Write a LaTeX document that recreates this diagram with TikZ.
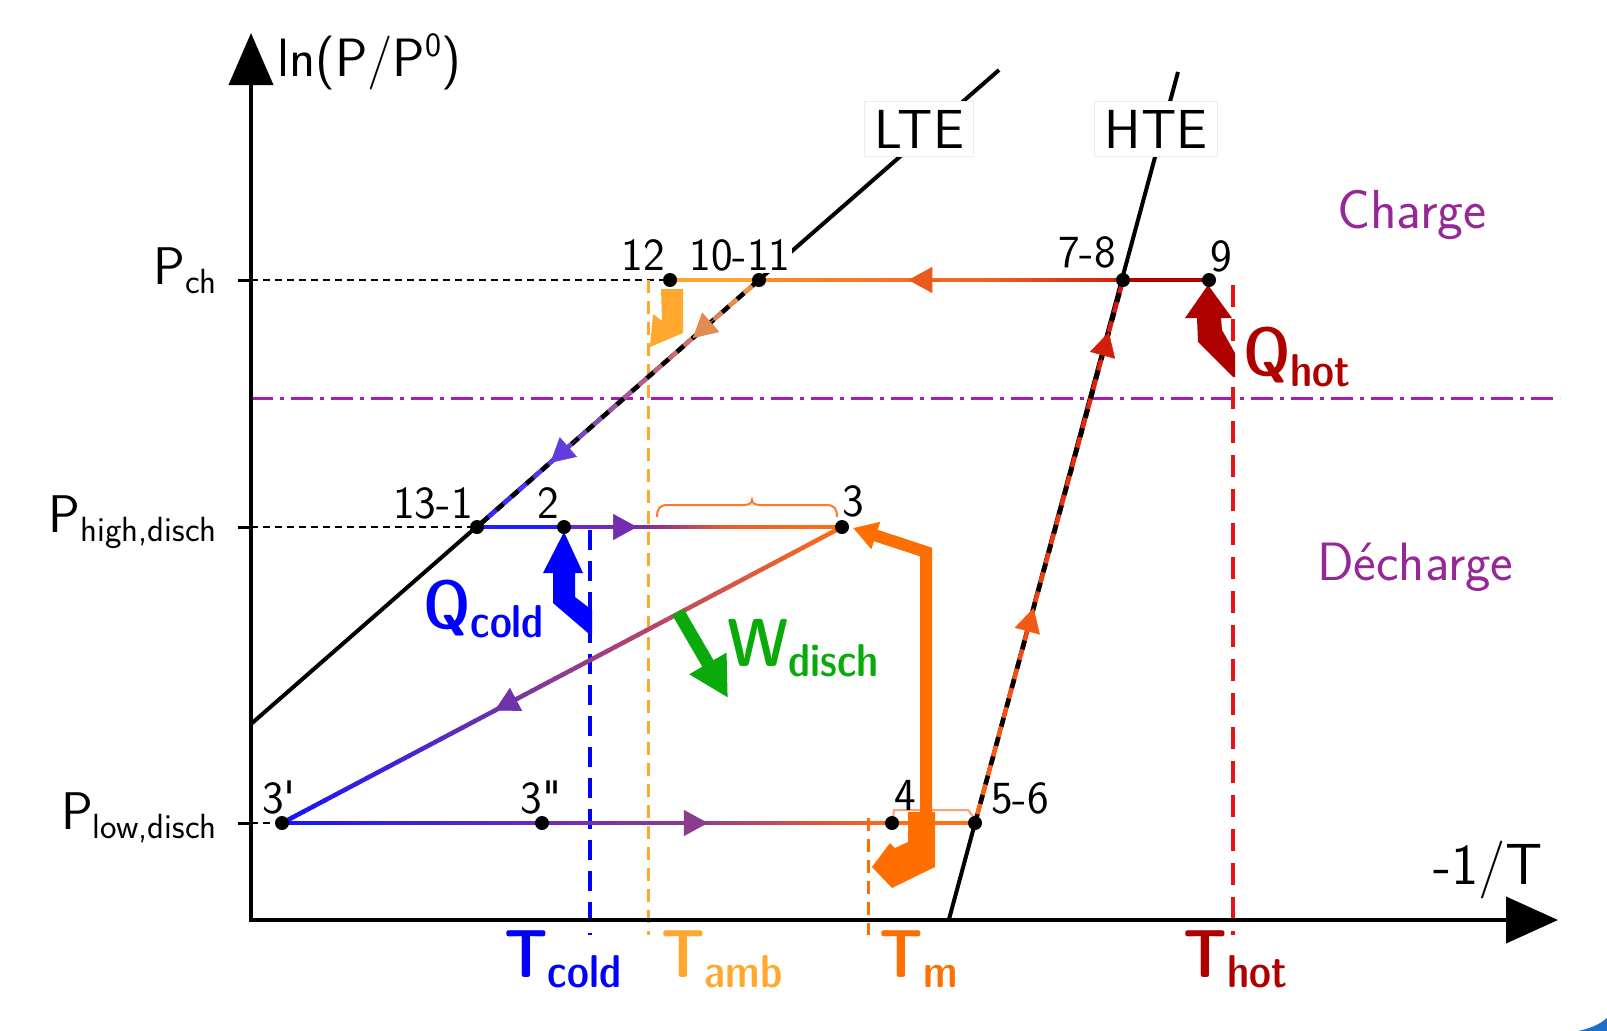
\documentclass[tikz,border=0pt]{standalone}
\usetikzlibrary{arrows.meta,calc}
\definecolor{cblue}{RGB}{0,0,255}
\definecolor{camb}{RGB}{255,168,45}
\definecolor{corange}{RGB}{255,110,0}
\definecolor{cdred}{RGB}{175,0,0}
\definecolor{cred}{RGB}{230,20,20}
\definecolor{cgreen}{RGB}{10,170,10}
\definecolor{cviolet}{RGB}{150,40,150}
\definecolor{cdash}{RGB}{165,30,175}
\definecolor{cbrace}{RGB}{255,120,40}
\definecolor{cbrack}{RGB}{255,160,110}
\definecolor{cswoosh}{RGB}{30,110,200}
% gradient stops
\definecolor{gA}{RGB}{180,0,0}
\definecolor{gB}{RGB}{205,30,10}
\definecolor{gC}{RGB}{235,95,30}
\definecolor{gD}{RGB}{255,140,40}
\definecolor{gE}{RGB}{255,165,50}
\definecolor{lA}{RGB}{255,150,60}
\definecolor{lB}{RGB}{170,90,140}
\definecolor{lC}{RGB}{90,60,230}
\definecolor{lD}{RGB}{40,40,255}
\definecolor{hA}{RGB}{30,30,255}
\definecolor{hB}{RGB}{100,40,210}
\definecolor{hC}{RGB}{125,45,160}
\definecolor{hD}{RGB}{235,95,45}
\definecolor{hE}{RGB}{255,110,20}
\definecolor{dB}{RGB}{180,70,110}
\definecolor{dC}{RGB}{110,50,170}
\definecolor{dD}{RGB}{20,20,255}
\definecolor{pB}{RGB}{105,45,185}
\definecolor{pD}{RGB}{145,60,140}
\definecolor{eA}{RGB}{255,100,20}
\definecolor{eB}{RGB}{215,20,15}
% arrow tip colours
\definecolor{aPch}{RGB}{232,90,30}
\definecolor{aLup}{RGB}{225,140,80}
\definecolor{aLlo}{RGB}{100,60,220}
\definecolor{aPhi}{RGB}{115,45,175}
\definecolor{aDia}{RGB}{110,50,170}
\definecolor{aPlo}{RGB}{140,60,140}
\definecolor{aHlo}{RGB}{240,90,20}
\definecolor{aHup}{RGB}{210,30,10}

\newcommand{\gradline}[4]{%
  \foreach \gi in {1,...,20}{%
    \pgfmathsetmacro{\gta}{(\gi-1)/20}%
    \pgfmathsetmacro{\gtb}{\gi/20}%
    \pgfmathtruncatemacro{\gpc}{round(100*(\gi-0.5)/20)}%
    \draw[procline,color={#4!\gpc!#3}] ($(#1)!\gta!(#2)$) -- ($(#1)!\gtb!(#2)$);%
  }}
\newcommand{\bigb}{\fontseries{sbc}\fontsize{68}{70}\selectfont}
\newcommand{\subb}{\fontseries{sbc}\fontsize{46}{48}\selectfont}
\newcommand{\psub}{\fontsize{35}{37}\selectfont}

\begin{document}
\begin{tikzpicture}[x=1pt,y=-1pt,font=\sffamily,
  axisline/.style={line width=4pt,black},
  blkline/.style={line width=4pt,black},
  guide/.style={line width=2pt,black,dash pattern=on 7pt off 5pt},
  procline/.style={line width=4.5pt,line cap=round},
  dashover/.style={line width=4.5pt,black,dash pattern=on 9pt off 11pt},
  tipst/.style={line width=0.6pt,-{Triangle[length=24pt,width=26pt]}},
  dotnode/.style={circle,fill=black,inner sep=0pt,minimum size=14pt},
  numlbl/.style={font=\sffamily\fontsize{46}{50}\selectfont,inner sep=0pt,anchor=base},
  boxlbl/.style={font=\sffamily\fontsize{55}{58}\selectfont,fill=white,draw=black!7,line width=1pt,inner xsep=10pt,inner ysep=8pt,anchor=base},
  plbl/.style={font=\sffamily\fontsize{53}{56}\selectfont,inner sep=0pt,anchor=base east},
  biglbl/.style={inner sep=0pt,anchor=base west}]

\fill[white] (0,0) rectangle (1607,1031);
\useasboundingbox (0,0) rectangle (1607,1031);

% ---------- coordinates ----------
\coordinate (O) at (251,922);
\coordinate (Ox) at (249,920);
\coordinate (ytip) at (251,33);
\coordinate (xtip) at (1558,920);
\coordinate (ych) at (251,280);
\coordinate (yhi) at (251,527);
\coordinate (ylo) at (251,823);
\coordinate (tk1) at (238,280);
\coordinate (tk2) at (238,527);
\coordinate (tk3) at (238,823);

\coordinate (p12) at (670,280);
\coordinate (p1011) at (759,280);
\coordinate (p78) at (1123,280);
\coordinate (p9) at (1209,280);
\coordinate (p131) at (477,527);
\coordinate (p2) at (564,527);
\coordinate (p3) at (842,527);
\coordinate (p3a) at (282,823);
\coordinate (p3b) at (542,823);
\coordinate (p4) at (892,823);
\coordinate (p56) at (975,823);

\coordinate (lteA) at (251,724);
\coordinate (lteB) at (999,70);
\coordinate (hteA) at (948.8,920);
\coordinate (hteB) at (1178,72);

\coordinate (m1) at ($(p78)!0.35!(p1011)$);
\coordinate (l1) at ($(p1011)!0.45!(p131)$);
\coordinate (l2) at ($(p1011)!0.75!(p131)$);
\coordinate (h1) at ($(p2)!0.3!(p3)$);
\coordinate (h2) at ($(p2)!0.6!(p3)$);
\coordinate (d1) at ($(p3)!0.35!(p3a)$);
\coordinate (d2) at ($(p3)!0.62!(p3a)$);
\coordinate (q1) at ($(p3b)!0.45!(p4)$);
\coordinate (q2) at ($(p3b)!0.9!(p4)$);

% ---------- dash-dot separator ----------
\coordinate (dd1) at (251,398);
\coordinate (dd2) at (1560,398);
\draw[cdash,line width=3pt,dash pattern=on 22pt off 7pt on 4pt off 7pt] (dd1) -- (dd2);

% ---------- guides ----------
\draw[guide] (ych) -- (p12);
\draw[guide] (yhi) -- (p131);
\draw[guide] (ylo) -- (p3a);

\coordinate (tc1) at (590,530); \coordinate (tc2) at (590,935);
\coordinate (ta1) at (648,280); \coordinate (ta2) at (648,935);
\coordinate (tm1) at (868,818); \coordinate (tm2) at (868,935);
\coordinate (th1) at (1233,285); \coordinate (th2) at (1233,935);
\draw[cblue,line width=4pt,dash pattern=on 20pt off 11pt] (tc1) -- (tc2);
\draw[camb,line width=3pt,dash pattern=on 13pt off 8pt] (ta1) -- (ta2);
\draw[corange,line width=3pt,dash pattern=on 13pt off 8pt] (tm1) -- (tm2);
\draw[cred,line width=4pt,dash pattern=on 22pt off 12pt] (th1) -- (th2);

% ---------- axes ----------
\draw[axisline,-{Triangle[length=52pt,width=44pt]}] (O) -- (ytip);
\draw[axisline,-{Triangle[length=52pt,width=46pt]}] (Ox) -- (xtip);
\draw[axisline,line width=3pt] (tk1) -- (ych);
\draw[axisline,line width=3pt] (tk2) -- (yhi);
\draw[axisline,line width=3pt] (tk3) -- (ylo);

% ---------- equilibrium lines ----------
\draw[blkline] (lteA) -- (lteB);
\draw[blkline] (hteA) -- (hteB);
\node[boxlbl] (lte) at (919,148) {LTE};
\node[boxlbl] (hte) at (1156,148) {HTE};
\node[numlbl,fill=white,inner sep=2pt] (l1011) at (740,270) {10-11};

% ---------- process lines ----------
\draw[procline,gA] (p9) -- (p78);
\gradline{p78}{m1}{gB}{gC}
\gradline{m1}{p1011}{gC}{gD}
\draw[procline,gE] (p1011) -- (p12);
\gradline{p1011}{l1}{lA}{lB}
\gradline{l1}{l2}{lB}{lC}
\gradline{l2}{p131}{lC}{lD}
\draw[procline,hA] (p131) -- (p2);
\gradline{p2}{h1}{hB}{hC}
\gradline{h1}{h2}{hC}{hD}
\gradline{h2}{p3}{hD}{hE}
\gradline{p3}{d1}{hE}{dB}
\gradline{d1}{d2}{dB}{dC}
\gradline{d2}{p3a}{dC}{dD}
\gradline{p3a}{p3b}{dD}{pB}
\gradline{p3b}{q1}{pB}{pD}
\gradline{q1}{q2}{pD}{hD}
\gradline{q2}{p4}{hD}{hE}
\draw[procline,hE] (p4) -- (p56);
\gradline{p56}{p78}{eA}{eB}

\draw[dashover] (p1011) -- (p131);
\draw[dashover] (p56) -- (p78);

% ---------- direction arrows ----------
\draw[tipst,aPch] ($(p78)!0.50!(p1011)$) -- ($(p78)!0.59!(p1011)$);
\draw[tipst,aLup] ($(p1011)!0.15!(p131)$) -- ($(p1011)!0.235!(p131)$);
\draw[tipst,aLlo] ($(p1011)!0.65!(p131)$) -- ($(p1011)!0.74!(p131)$);
\draw[tipst,aPhi] ($(p2)!0.15!(p3)$) -- ($(p2)!0.263!(p3)$);
\draw[tipst,aDia] ($(p3)!0.57!(p3a)$) -- ($(p3)!0.62!(p3a)$);
\draw[tipst,aPlo] ($(p3b)!0.38!(p4)$) -- ($(p3b)!0.474!(p4)$);
\draw[tipst,aHlo] ($(p56)!0.34!(p78)$) -- ($(p56)!0.396!(p78)$);
\draw[tipst,aHup] ($(p56)!0.85!(p78)$) -- ($(p56)!0.904!(p78)$);

% ---------- brace and bracket ----------
\draw[cbrace,line width=2pt] (657,517) .. controls (657,508) and (660,505) .. (668,505) -- (744,505) .. controls (749,505) and (752,503) .. (752,500) .. controls (752,503) and (755,505) .. (760,505) -- (826,505) .. controls (834,505) and (837,508) .. (837,517);
\draw[cbrack,line width=2pt] (893,818) -- (894,810) -- (968,810) -- (974,818);

% ---------- heat / work arrows ----------
\fill[cdred] (1208,285) -- (1185,318) -- (1197,318) -- (1198,342) -- (1233,377) -- (1235,377) -- (1235,353) -- (1222,330) -- (1221,318) -- (1232,318) -- cycle;
\fill[cblue] (564,532) -- (583,573) -- (575,573) -- (575,597) -- (592,610) -- (592,633) -- (588,633) -- (553,603) -- (553,573) -- (543,573) -- cycle;
\fill[camb] (661,289) -- (683,289) -- (683,333) -- (650,347) -- (653,314) -- (662,321) -- cycle;
\coordinate (ws) at (678,612);
\coordinate (wt) at (728,698);
\draw[cgreen,line width=13pt,-{Triangle[length=40pt,width=40pt]}] (ws) -- (wt);
\coordinate (tmA) at (926,815);
\coordinate (tmB) at (926,552);
\coordinate (tmC) at (853,528);
\draw[corange,line width=12pt,-{Triangle[length=24pt,width=27pt]}] (tmA) -- (tmB) -- (tmC);
\fill[corange] (908,812) -- (935,812) -- (935,867) -- (892,888) -- (872,867) -- (890,843) -- (895,848) -- (908,842) -- cycle;

% ---------- state points ----------
\node[dotnode] (d12) at (p12) {};
\node[dotnode] (d1011) at (p1011) {};
\node[dotnode] (d78) at (p78) {};
\node[dotnode] (d9) at (p9) {};
\node[dotnode] (d131) at (p131) {};
\node[dotnode] (d2) at (p2) {};
\node[dotnode] (d3) at (p3) {};
\node[dotnode] (d3a) at (p3a) {};
\node[dotnode] (d3b) at (p3b) {};
\node[dotnode] (d4) at (p4) {};
\node[dotnode] (d56) at (p56) {};

% ---------- point labels ----------
\node[numlbl] (l12) at (643,270) {12};
\node[numlbl] (l78) at (1087,267) {7-8};
\node[numlbl] (l9) at (1221,271) {9};
\node[numlbl] (l131) at (433,518) {13-1};
\node[numlbl] (l2) at (548,518) {2};
\node[numlbl] (l3) at (853,516) {3};
\node[numlbl] (l3a) at (279,813) {3\textquotesingle};
\node[numlbl] (l3b) at (541,813) {3\textquotedbl};
\node[numlbl] (l4) at (905,810) {4};
\node[numlbl] (l56) at (1020,813) {5-6};

% ---------- axis labels ----------
\node[plbl] (lpch) at (217,284) {P\raisebox{-9pt}{\psub ch}};
\node[plbl] (lphi) at (217,532) {P\raisebox{-9pt}{\psub high,disch}};
\node[plbl] (lplo) at (217,829) {P\raisebox{-9pt}{\psub low,disch}};
\node[biglbl,font=\sffamily\fontsize{54}{58}\selectfont] (ylab) at (277,76) {ln(P/P\raisebox{20pt}{\fontsize{34}{36}\selectfont 0})};
\node[biglbl,font=\sffamily\fontsize{58}{62}\selectfont] (xlab) at (1433,884) {-1/T};

\node[biglbl,text=cviolet,font=\sffamily\fontsize{55}{58}\selectfont] (charge) at (1337,228) {Charge};
\node[biglbl,text=cviolet,font=\sffamily\fontsize{54}{58}\selectfont] (decharge) at (1317,580) {Décharge};

% ---------- bold labels ----------
\node[biglbl,text=cblue] (qcold) at (423,628) {\bigb Q\raisebox{-9pt}{\subb cold}};
\node[biglbl,text=cdred] (qhot) at (1243,375) {\bigb Q\raisebox{-11pt}{\subb hot}};
\node[biglbl,text=cgreen] (wdisch) at (727,666) {\bigb W\raisebox{-10pt}{\subb disch}};
\node[biglbl,text=cblue] (tcold) at (504,977) {\bigb T\raisebox{-10pt}{\subb cold}};
\node[biglbl,text=camb] (tamb) at (661,977) {\bigb T\raisebox{-10pt}{\subb amb}};
\node[biglbl,text=corange] (tmlbl) at (879,977) {\bigb T\raisebox{-10pt}{\subb m}};
\node[biglbl,text=cdred] (thot) at (1183,977) {\bigb T\raisebox{-10pt}{\subb hot}};

% corner decoration
\fill[cswoosh] (1578,1031) .. controls (1592,1028) and (1600,1024) .. (1607,1018) -- (1607,1031) -- cycle;
\end{tikzpicture}
\end{document}
